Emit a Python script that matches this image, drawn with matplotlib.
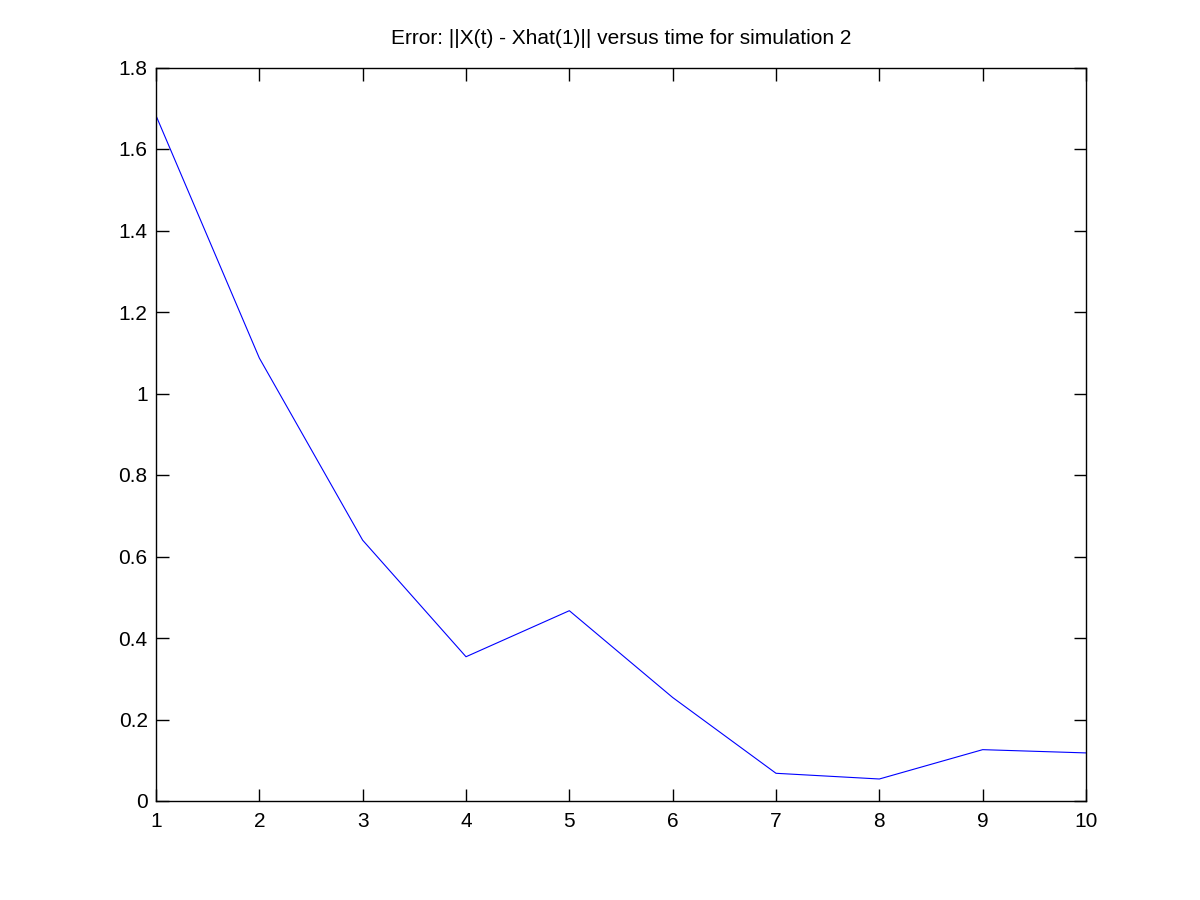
import matplotlib
matplotlib.use('Agg')
import matplotlib.pyplot as plt

time = [1, 2, 3, 4, 5, 6, 7, 8, 9, 10]
error = [1.682, 1.087, 0.640, 0.354, 0.467, 0.254, 0.068, 0.054, 0.126, 0.118]

plt.rcParams['font.family'] = ['Liberation Sans', 'DejaVu Sans']

fig = plt.figure(figsize=(12, 9), dpi=100)
ax = fig.add_axes([0.13, 0.11, 0.775, 0.815])
ax.plot(time, error, color='blue', linewidth=0.8)
ax.set_xlim(1, 10)
ax.set_ylim(0, 1.8)
ax.set_xticks(range(1, 11))
ax.set_yticks([0, 0.2, 0.4, 0.6, 0.8, 1, 1.2, 1.4, 1.6, 1.8])
ax.set_yticklabels(['0', '0.2', '0.4', '0.6', '0.8', '1', '1.2', '1.4', '1.6', '1.8'])
ax.tick_params(direction='in', top=True, right=True, length=9, width=1, labelsize=15)
ax.tick_params(axis='x', pad=8)
ax.tick_params(axis='y', pad=6)
for s in ax.spines.values():
    s.set_linewidth(1)
ax.set_title('Error: ||X(t) - Xhat(1)|| versus time for simulation 2', fontsize=15, pad=17)

fig.savefig('out.png', dpi=100)
